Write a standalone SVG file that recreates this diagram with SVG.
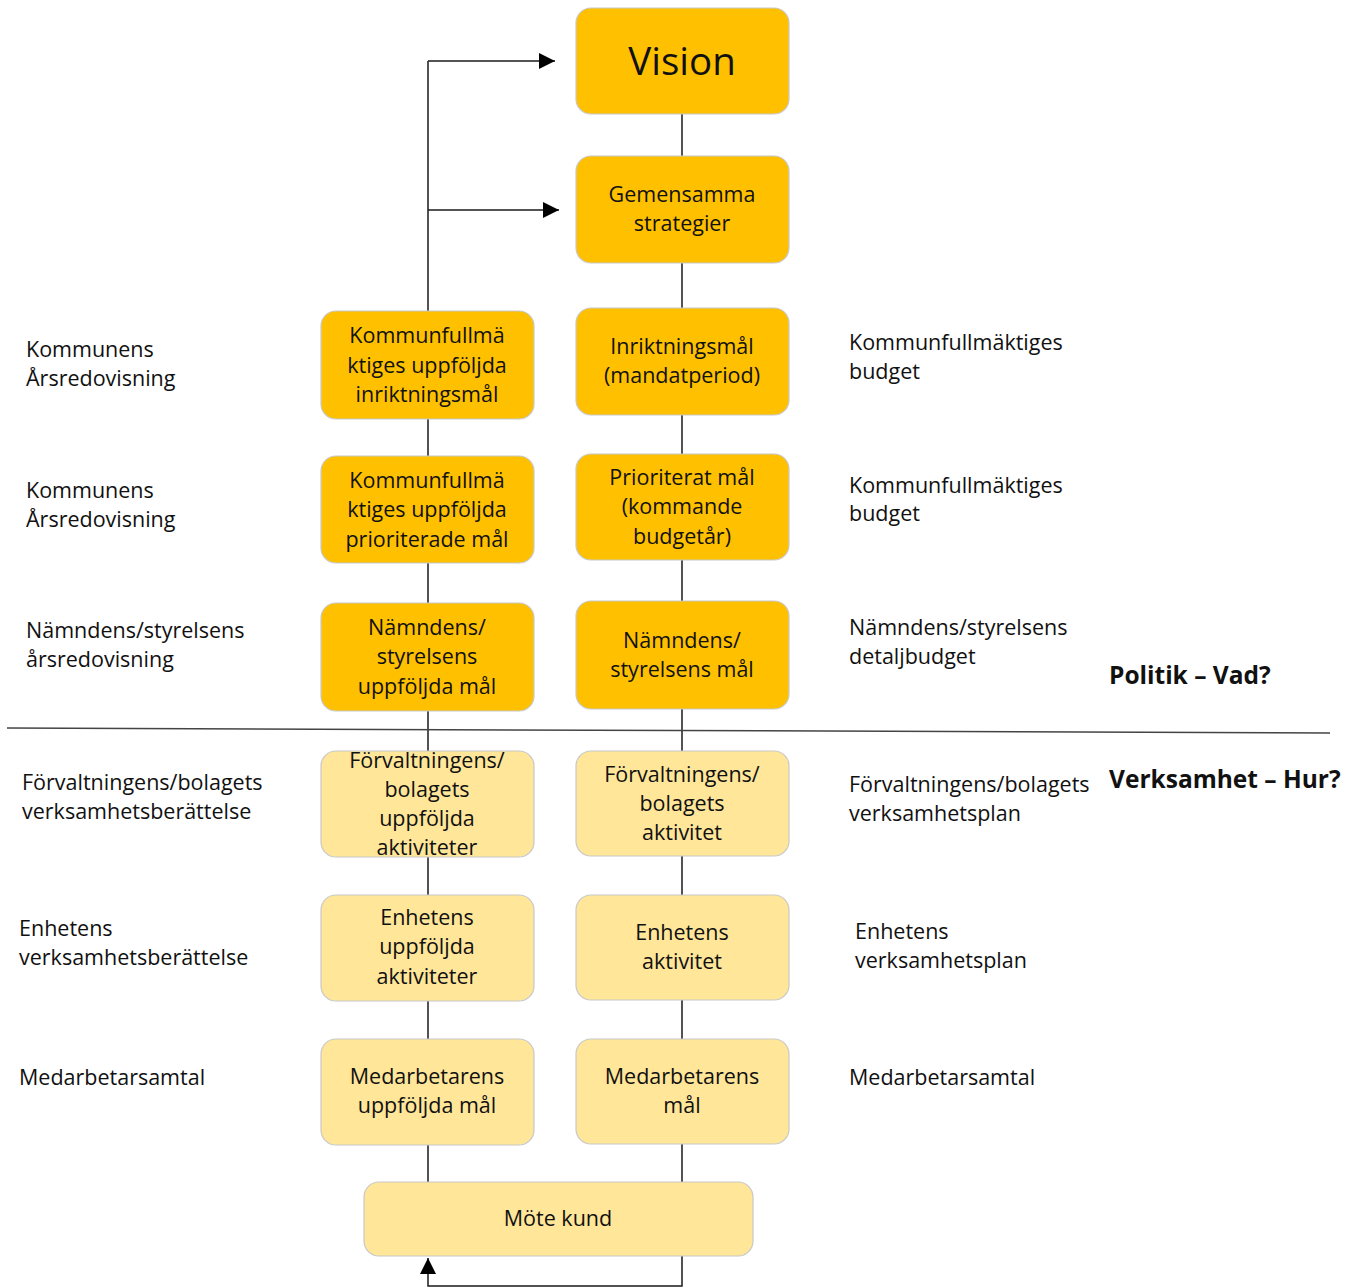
<svg xmlns="http://www.w3.org/2000/svg" width="1349" height="1288" viewBox="0 0 1349 1288">
<style>
text{font-family:"Open Sans","Liberation Sans",sans-serif;font-size:21.5px;fill:#111}
.c{text-anchor:middle}
.b{font-weight:bold;font-size:24.5px}
.dk{fill:#FFC000;stroke:#C8C8C8;stroke-width:1.2}
.lt{fill:#FFE699;stroke:#C8C8C8;stroke-width:1.2}
.ln{stroke:#1a1a1a;stroke-width:1.5;fill:none}
</style>
<defs>
<marker id="ah" viewBox="0 0 10 10" refX="10" refY="5" markerWidth="16" markerHeight="16" markerUnits="userSpaceOnUse" orient="auto">
<path d="M0,0 L10,5 L0,10 Z" fill="#000"/>
</marker>
</defs>
<g id="connectors">
<line class="ln" x1="682" y1="114" x2="682" y2="1182"/>
<line class="ln" x1="428" y1="61" x2="428" y2="1182"/>
<path class="ln" d="M428,61 H555" marker-end="url(#ah)"/>
<path class="ln" d="M428,210 H559" marker-end="url(#ah)"/>
<path class="ln" d="M682,1256 V1286 H428 V1258" marker-end="url(#ah)"/>
<line x1="7" y1="728" x2="1330" y2="733" stroke="#444" stroke-width="1.5"/>
</g>
<g id="vision"><rect class="dk" x="576" y="8" width="213" height="106" rx="15"/><text class="c" x="682" y="75" style="font-size:38.5px">Vision</text></g>
<g id="gemensamma"><rect class="dk" x="576" y="156" width="213" height="107" rx="15"/><text class="c" x="682" y="202">Gemensamma</text><text class="c" x="682" y="231">strategier</text></g>
<g id="inriktning"><rect class="dk" x="576" y="308" width="213" height="107" rx="15"/><text class="c" x="682" y="354">Inriktningsmål</text><text class="c" x="682" y="383">(mandatperiod)</text></g>
<g id="prioriterat"><rect class="dk" x="576" y="454" width="213" height="106" rx="15"/><text class="c" x="682" y="485">Prioriterat mål</text><text class="c" x="682" y="514">(kommande</text><text class="c" x="682" y="544">budgetår)</text></g>
<g id="namndens-mal"><rect class="dk" x="576" y="601" width="213" height="108" rx="15"/><text class="c" x="682" y="648">Nämndens/</text><text class="c" x="682" y="677">styrelsens mål</text></g>
<g id="forv-aktivitet"><rect class="lt" x="576" y="751" width="213" height="105" rx="15"/><text class="c" x="682" y="782">Förvaltningens/</text><text class="c" x="682" y="811">bolagets</text><text class="c" x="682" y="840">aktivitet</text></g>
<g id="enhetens-aktivitet"><rect class="lt" x="576" y="895" width="213" height="105" rx="15"/><text class="c" x="682" y="940">Enhetens</text><text class="c" x="682" y="969">aktivitet</text></g>
<g id="medarb-mal"><rect class="lt" x="576" y="1039" width="213" height="105" rx="15"/><text class="c" x="682" y="1084">Medarbetarens</text><text class="c" x="682" y="1113">mål</text></g>
<g id="kf-inriktning"><rect class="dk" x="321" y="311" width="213" height="108" rx="15"/><text class="c" x="427" y="343">Kommunfullmä</text><text class="c" x="427" y="373">ktiges uppföljda</text><text class="c" x="427" y="402">inriktningsmål</text></g>
<g id="kf-prioriterade"><rect class="dk" x="321" y="456" width="213" height="107" rx="15"/><text class="c" x="427" y="488">Kommunfullmä</text><text class="c" x="427" y="517">ktiges uppföljda</text><text class="c" x="427" y="547">prioriterade mål</text></g>
<g id="namndens-uppfoljda"><rect class="dk" x="321" y="603" width="213" height="108" rx="15"/><text class="c" x="427" y="635">Nämndens/</text><text class="c" x="427" y="664">styrelsens</text><text class="c" x="427" y="694">uppföljda mål</text></g>
<g id="forv-uppfoljda"><rect class="lt" x="321" y="751" width="213" height="106" rx="15"/><text class="c" x="427" y="768">Förvaltningens/</text><text class="c" x="427" y="797">bolagets</text><text class="c" x="427" y="826">uppföljda</text><text class="c" x="427" y="855">aktiviteter</text></g>
<g id="enhetens-uppfoljda"><rect class="lt" x="321" y="895" width="213" height="106" rx="15"/><text class="c" x="427" y="925">Enhetens</text><text class="c" x="427" y="954">uppföljda</text><text class="c" x="427" y="984">aktiviteter</text></g>
<g id="medarb-uppfoljda"><rect class="lt" x="321" y="1039" width="213" height="106" rx="15"/><text class="c" x="427" y="1084">Medarbetarens</text><text class="c" x="427" y="1113">uppföljda mål</text></g>
<g id="mote-kund"><rect class="lt" x="364" y="1182" width="389" height="74" rx="15"/><text class="c" x="558" y="1226">Möte kund</text></g>
<g id="labels-left">
<text x="26" y="357">Kommunens</text><text x="26" y="386">Årsredovisning</text>
<text x="26" y="498">Kommunens</text><text x="26" y="527">Årsredovisning</text>
<text x="26" y="638">Nämndens/styrelsens</text><text x="26" y="667">årsredovisning</text>
<text x="22" y="790">Förvaltningens/bolagets</text><text x="22" y="819">verksamhetsberättelse</text>
<text x="19" y="936">Enhetens</text><text x="19" y="965">verksamhetsberättelse</text>
<text x="19" y="1085">Medarbetarsamtal</text>
</g>
<g id="labels-right">
<text x="849" y="350">Kommunfullmäktiges</text><text x="849" y="379">budget</text>
<text x="849" y="493">Kommunfullmäktiges</text><text x="849" y="521">budget</text>
<text x="849" y="635">Nämndens/styrelsens</text><text x="849" y="664">detaljbudget</text>
<text x="849" y="792">Förvaltningens/bolagets</text><text x="849" y="821">verksamhetsplan</text>
<text x="855" y="939">Enhetens</text><text x="855" y="968">verksamhetsplan</text>
<text x="849" y="1085">Medarbetarsamtal</text>
<text class="b" x="1109" y="684">Politik – Vad?</text>
<text class="b" x="1109" y="788">Verksamhet – Hur?</text>
</g>
</svg>
